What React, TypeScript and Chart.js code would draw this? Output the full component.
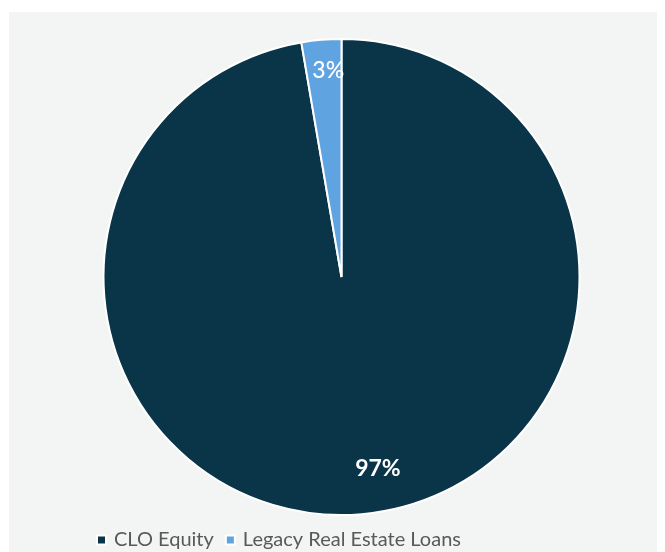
import React, { useEffect, useRef } from "react";
import { Chart, registerables } from "chart.js";

Chart.register(...registerables);

const categories = ["CLO Equity", "Legacy Real Estate Loans"];
const shares = [97.3, 2.7];
const sliceColors = ["#0a3448", "#5fa3e0"];

const labelPlugin = {
  id: "sliceLabels",
  afterDatasetsDraw(chart: any) {
    const { ctx } = chart;
    const meta = chart.getDatasetMeta(0);
    const data = chart.data.datasets[0].data as number[];
    const total = data.reduce((a, b) => a + b, 0);
    const place = [
      { frac: 0.82, shift: -5.9, weight: "bold" },
      { frac: 0.87, shift: 1.2, weight: "500" },
    ];
    meta.data.forEach((arc: any, i: number) => {
      const { x, y, startAngle, endAngle, outerRadius } = arc.getProps(
        ["x", "y", "startAngle", "endAngle", "outerRadius"],
        true
      );
      const mid = (startAngle + endAngle) / 2 + (place[i].shift * Math.PI) / 180;
      const r = outerRadius * place[i].frac;
      const px = x + Math.cos(mid) * r;
      const py = y + Math.sin(mid) * r;
      ctx.save();
      ctx.fillStyle = "#ffffff";
      ctx.font = `${place[i].weight} 23px Lato`;
      ctx.textAlign = "center";
      ctx.textBaseline = "middle";
      ctx.fillText(Math.round((data[i] / total) * 100) + "%", px, py);
      ctx.restore();
    });
  },
};

// The reference legend sits left of the pie's centre line.
const legendShift = {
  id: "legendShift",
  afterLayout(chart: any) {
    if (chart.legend) chart.legend.left = 76;
  },
};

export default function App() {
  const ref = useRef<HTMLCanvasElement | null>(null);
  useEffect(() => {
    document.body.style.overflow = "hidden";
    document.documentElement.style.overflow = "hidden";
    const chart = new Chart(ref.current!, {
      type: "pie",
      data: {
        labels: categories,
        datasets: [
          {
            data: shares,
            backgroundColor: sliceColors,
            borderColor: "#ffffff",
            borderWidth: 2,
          },
        ],
      },
      options: {
        animation: false,
        responsive: false,
        layout: { padding: { top: 26, left: 9, right: 0, bottom: 0 } },
        plugins: {
          tooltip: { enabled: false },
          legend: {
            position: "bottom",
            align: "start",
            labels: {
              usePointStyle: true,
              pointStyle: "rect",
              boxWidth: 5,
              boxHeight: 9,
              padding: 14,
              color: "#595959",
              font: { family: "Lato", size: 20 },
            },
          },
        },
      },
      plugins: [labelPlugin, legendShift],
    });
    return () => chart.destroy();
  }, []);
  return (
    <div
      style={{
        marginTop: 4,
        marginLeft: 1,
        width: 656,
        height: 560,
        background: "#f3f4f4",
      }}
    >
      <canvas ref={ref} width={656} height={548} style={{ display: "block" }} />
    </div>
  );
}
